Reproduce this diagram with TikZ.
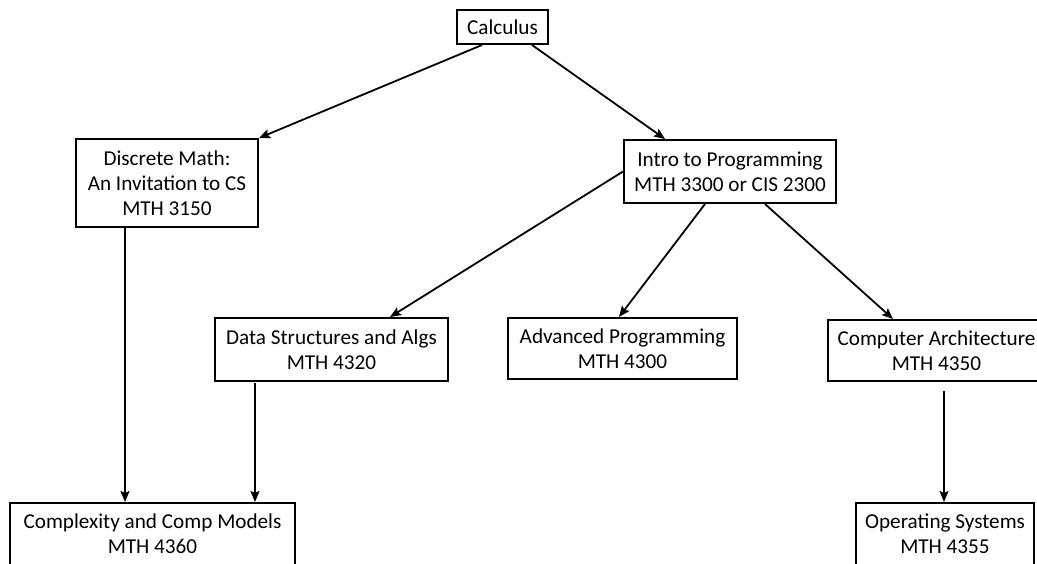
\documentclass[tikz,border=0pt]{standalone}
\usepackage{fontspec}
\setmainfont{Carlito}
\usetikzlibrary{calc,arrows.meta}

\tikzset{
  course/.style={draw, line width=1pt, align=center, inner sep=0pt,
    font=\fontsize{10.6}{12.5}\selectfont},
  prereq/.style={line width=0.9pt, -{Stealth[length=5.5pt,width=4.5pt,inset=1pt]}}
}

\begin{document}
\begin{tikzpicture}[x=0.5pt, y=-0.5pt]
  \useasboundingbox (0,0) rectangle (1037,563);
   \node[course, minimum width=45.5pt, minimum height=17pt] at (502.5,27) (calc) {Calculus};
   \node[course, minimum width=91pt, minimum height=44pt] at (167,183) (discrete) {Discrete Math:\\An Invitation to CS\\MTH 3150};
   \node[course, minimum width=106pt, minimum height=31.5pt] at (730,171.5) (intro) {Intro to Programming\\MTH 3300 or CIS 2300};
   \node[course, minimum width=116.5pt, minimum height=31.5pt] at (331.5,349.5) (datastr) {Data Structures and Algs\\MTH 4320};
   \node[course, minimum width=114.5pt, minimum height=30.5pt] at (622.5,348.5) (advprog) {Advanced Programming\\MTH 4300};
   \node[course, minimum width=109pt, minimum height=30.5pt] at (936.5,350.5) (comparch) {Computer Architecture\\MTH 4350};
   \node[course, minimum width=89pt, minimum height=31pt] at (945,534) (opsys) {Operating Systems\\MTH 4355};
   \node[course, minimum width=142.5pt, minimum height=31pt] at (152.5,534) (complexity) {Complexity and Comp Models\\MTH 4360};

   \draw[prereq] ($(calc.south)+(-20.5,0)$) -- (discrete.north east);
   \draw[prereq] ($(calc.south)+(29.5,0)$) -- ($(intro.north)+(-65,0)$);
   \draw[prereq] (intro.west) -- ($(datastr.north)+(58.5,0)$);
   \draw[prereq] ($(intro.south)+(-25,0)$) -- ($(advprog.north)+(-3.5,0)$);
   \draw[prereq] ($(intro.south)+(35,0)$) -- ($(comparch.north)+(-43.5,0)$);
   \draw[prereq] ($(discrete.south)+(-42,0)$) -- ($(complexity.north)+(-27.5,0)$);
   \draw[prereq] ($(datastr.south)+(-76.5,1)$) -- ($(complexity.north)+(102.5,0)$);
   \draw[prereq] ($(comparch.south)+(7.5,9)$) -- ($(opsys.north)+(-1,0)$);
 \end{tikzpicture}
\end{document}
